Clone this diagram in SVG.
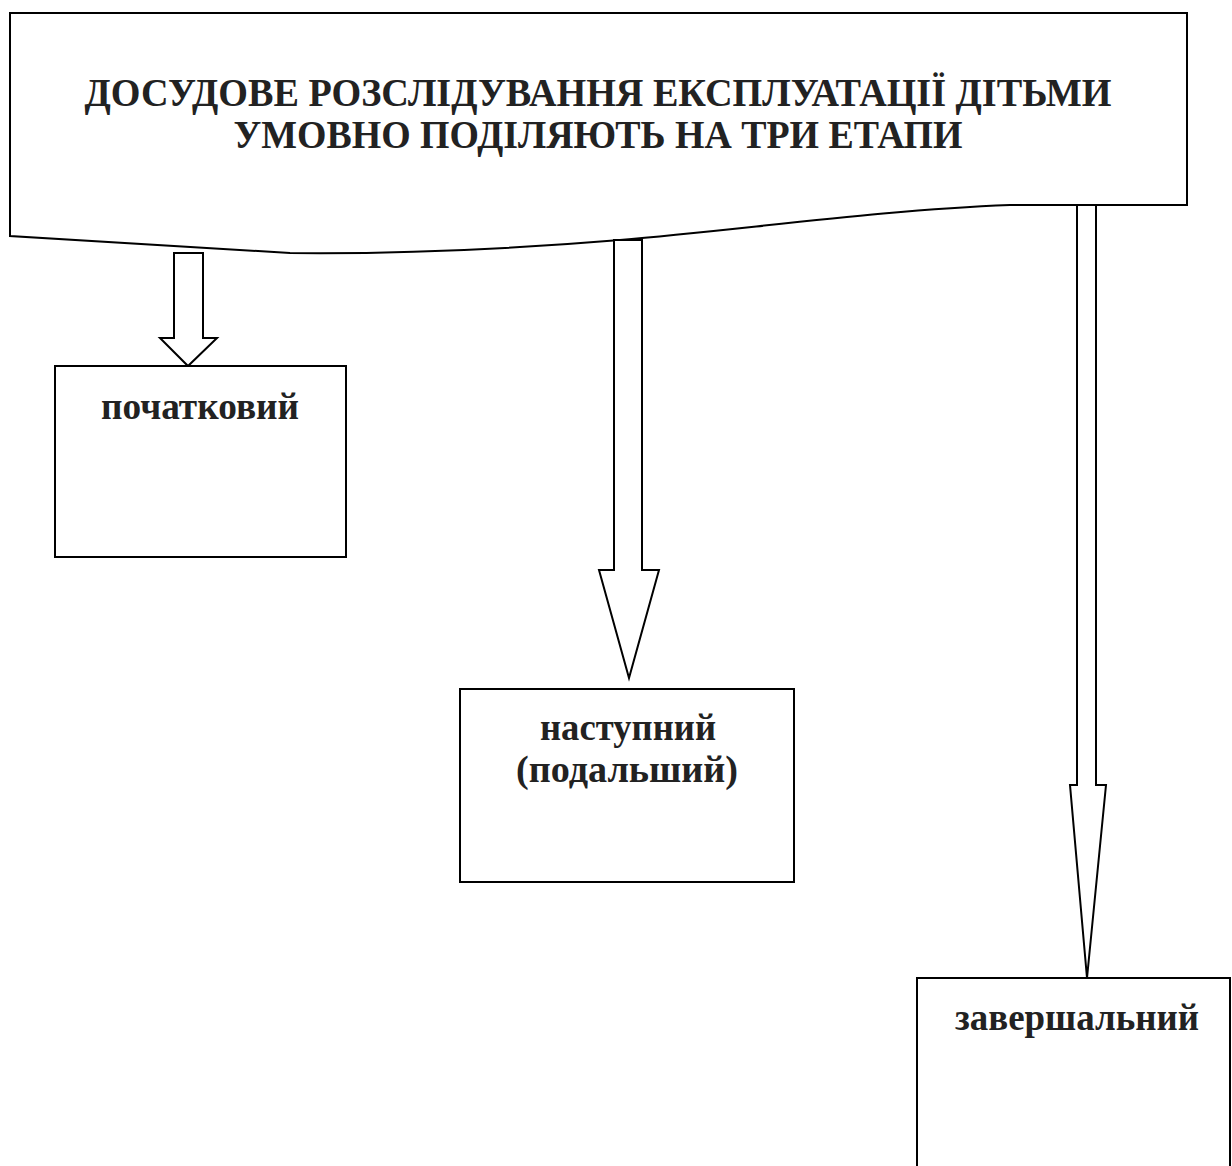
<svg xmlns="http://www.w3.org/2000/svg" width="1232" height="1166" viewBox="0 0 1232 1166">
<style>
.s{fill:#fff;stroke:#000;stroke-width:2}
.t{font-family:'Liberation Serif','Times New Roman','DejaVu Serif',serif;font-weight:700;fill:#222;text-anchor:middle}
.h{font-size:40px}
.b{font-size:37px}
</style>
<rect width="1232" height="1166" fill="#fff"/>
<g id="header">
<path class="s" d="M10,13 H1187 V205 H1010 C880,210 740,230 620,240 C500,250 390,254 290,253 L10,236 Z"/>
<text class="t h" x="598" y="106" textLength="1027" lengthAdjust="spacingAndGlyphs">ДОСУДОВЕ РОЗСЛІДУВАННЯ ЕКСПЛУАТАЦІЇ ДІТЬМИ</text>
<text class="t h" x="598" y="148" textLength="729" lengthAdjust="spacingAndGlyphs">УМОВНО ПОДІЛЯЮТЬ НА ТРИ ЕТАПИ</text>
</g>
<g id="connectors">
<path class="s" d="M174,253 H203 V338 H217 L188,366 L160,338 H174 Z"/>
<path class="s" d="M614,240 H642 V570 H659 L629,678 L599,570 H614 Z"/>
<path class="s" d="M1077,205 H1096 V785 H1106 L1087,978 L1070,785 H1077 Z"/>
</g>
<g id="n1">
<rect class="s" x="55" y="366" width="291" height="191"/>
<text class="t b" x="200" y="419" textLength="198" lengthAdjust="spacingAndGlyphs">початковий</text>
</g>
<g id="n2">
<rect class="s" x="460" y="689" width="334" height="193"/>
<text class="t b" x="628" y="740" textLength="176" lengthAdjust="spacingAndGlyphs">наступний</text>
<text class="t b" x="627" y="782" textLength="222" lengthAdjust="spacingAndGlyphs">(подальший)</text>
</g>
<g id="n3">
<rect class="s" x="917" y="978" width="313" height="200"/>
<text class="t b" x="1077" y="1030" textLength="244" lengthAdjust="spacingAndGlyphs">завершальний</text>
</g>
</svg>
